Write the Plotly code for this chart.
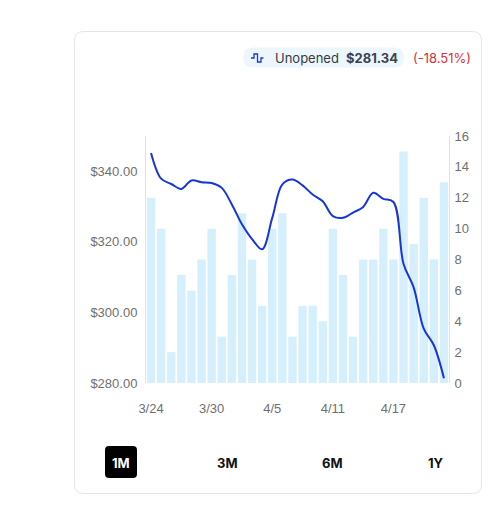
import plotly.graph_objects as go

# ---- data ----
dates = ['3/24', '3/25', '3/26', '3/27', '3/28', '3/29', '3/30', '3/31',
         '4/1', '4/2', '4/3', '4/4', '4/5', '4/6', '4/7', '4/8', '4/9',
         '4/10', '4/11', '4/12', '4/13', '4/14', '4/15', '4/16', '4/17',
         '4/18', '4/19', '4/20', '4/21', '4/22']
price = [345.2, 337.9, 336.4, 335.0, 337.4, 336.9, 336.7, 335.3,
         330.6, 325.0, 320.8, 317.9, 326.8, 336.3, 337.7, 336.0, 333.4,
         331.5, 327.3, 326.8, 328.3, 329.9, 333.9, 332.2, 331.3,
         313.7, 307.1, 295.4, 290.7, 281.34]
volume = [12, 10, 2, 7, 6, 8, 10, 3, 7, 11, 8, 5, 10, 11, 3, 5, 5,
          4, 10, 7, 3, 8, 8, 10, 8, 15, 9, 12, 8, 13]
tick_idx = [0, 6, 12, 18, 24]
price_ticks = [280, 300, 320, 340]
ranges = ['1M', '3M', '6M', '1Y']

OFF = 8                                   # page body margin
W, H = 480, 488                           # small enough to avoid scrollbars
L, R, T, B = 146 - OFF, 449 - OFF, 136 - OFF, 383 - OFF   # plot area (figure px)


def px(x):
    # screen pixel -> paper x
    return (x - OFF - L) / (R - L)


def py(y):
    return (B - (y - OFF)) / (B - T)


def round_rect(x0, y0, x1, y1, r):
    # rounded rectangle path in paper coords from screen pixel box
    rx, ry = r / (R - L), r / (B - T)
    a, b, c, d = px(x0), py(y1), px(x1), py(y0)
    return (f'M {a+rx},{b} L {c-rx},{b} Q {c},{b} {c},{b+ry} '
            f'L {c},{d-ry} Q {c},{d} {c-rx},{d} L {a+rx},{d} '
            f'Q {a},{d} {a},{d-ry} L {a},{b+ry} Q {a},{b} {a+rx},{b} Z')


x = list(range(len(dates)))

fig = go.Figure()
fig.add_trace(go.Bar(
    x=x, y=volume, yaxis='y',
    marker=dict(color='#d5effd', line=dict(width=0)),
    hoverinfo='skip',
))
fig.add_trace(go.Scatter(
    x=x, y=price, yaxis='y2', mode='lines',
    line=dict(color='#1736d9', width=2, shape='spline', smoothing=1),
))

shapes = [
    # card (right edge pulled in so it stays inside the visible page)
    dict(type='path', xref='paper', yref='paper',
         path=round_rect(74.5, 31.5, 481.5, 493.5, 9),
         line=dict(color='#e2e6ea', width=1), fillcolor='white', layer='below'),
    # legend pill
    dict(type='path', xref='paper', yref='paper',
         path=round_rect(243, 47.5, 404, 67.5, 10),
         line=dict(width=0), fillcolor='#eef6fd', layer='below'),
    # step icon
    dict(type='path', xref='paper', yref='paper',
         path=(f'M {px(251)},{py(58)} L {px(254)},{py(58)} L {px(254)},{py(54)} '
               f'L {px(257.5)},{py(54)} L {px(257.5)},{py(62)} L {px(261)},{py(62)} '
               f'L {px(261)},{py(58)} L {px(263.5)},{py(58)}'),
         line=dict(color='#1736d9', width=1.3)),
    # 1M selected button
    dict(type='path', xref='paper', yref='paper',
         path=round_rect(105, 446, 137, 478, 4),
         line=dict(width=0), fillcolor='#000000'),
]

annotations = [
    dict(text='Unopened', x=px(272.5), y=py(58), xanchor='left',
         font=dict(family='Inter', size=13, color='#333a44')),
    dict(text='<b>$281.34</b>', x=px(343.5), y=py(58), xanchor='left',
         font=dict(family='Inter', size=13, color='#3b4350')),
    dict(text='(-18.51%)', x=px(410.5), y=py(58), xanchor='left',
         font=dict(family='Inter', size=13, color='#d9303a')),
]
btn_x = [121, 227, 332, 436]
for lab, bx in zip(ranges, btn_x):
    annotations.append(dict(
        text=f'<b>{lab}</b>', x=px(bx), y=py(462.5), xanchor='center',
        font=dict(family='Inter', size=13,
                  color='white' if lab == '1M' else '#111111')))
for a in annotations:
    a.update(xref='paper', yref='paper', yanchor='middle', showarrow=False)

tick_font = dict(family='Liberation Sans, Arial', size=13, color='#6f6f6f')

fig.update_layout(
    width=W, height=H,
    margin=dict(l=L, r=W - R, t=T, b=H - B, pad=0),
    paper_bgcolor='white', plot_bgcolor='white',
    showlegend=False, bargap=0.17,
    font=dict(family='Liberation Sans, Arial', size=13, color='#6f6f6f'),
    xaxis=dict(range=[-0.5, len(dates) - 0.5], tickvals=tick_idx,
               ticktext=[dates[i] for i in tick_idx], showgrid=False,
               zeroline=False, showline=False, ticks='outside', ticklen=13,
               tickcolor='rgba(0,0,0,0)', tickfont=tick_font),
    yaxis=dict(side='right', range=[0, 16], dtick=2, showgrid=False,
               zeroline=False, showline=True, linecolor='#e2e2e2', linewidth=1,
               ticks='outside', ticklen=2, tickcolor='rgba(0,0,0,0)',
               tickfont=tick_font),
    yaxis2=dict(side='left', overlaying='y', range=[280, 350],
                tickvals=price_ticks, tickformat='$.2f', showgrid=False,
                zeroline=False, showline=True, linecolor='#e2e2e2', linewidth=1,
                ticks='outside', ticklen=5, tickcolor='rgba(0,0,0,0)',
                tickfont=tick_font),
    shapes=shapes, annotations=annotations,
)

fig.write_html('out.html')
